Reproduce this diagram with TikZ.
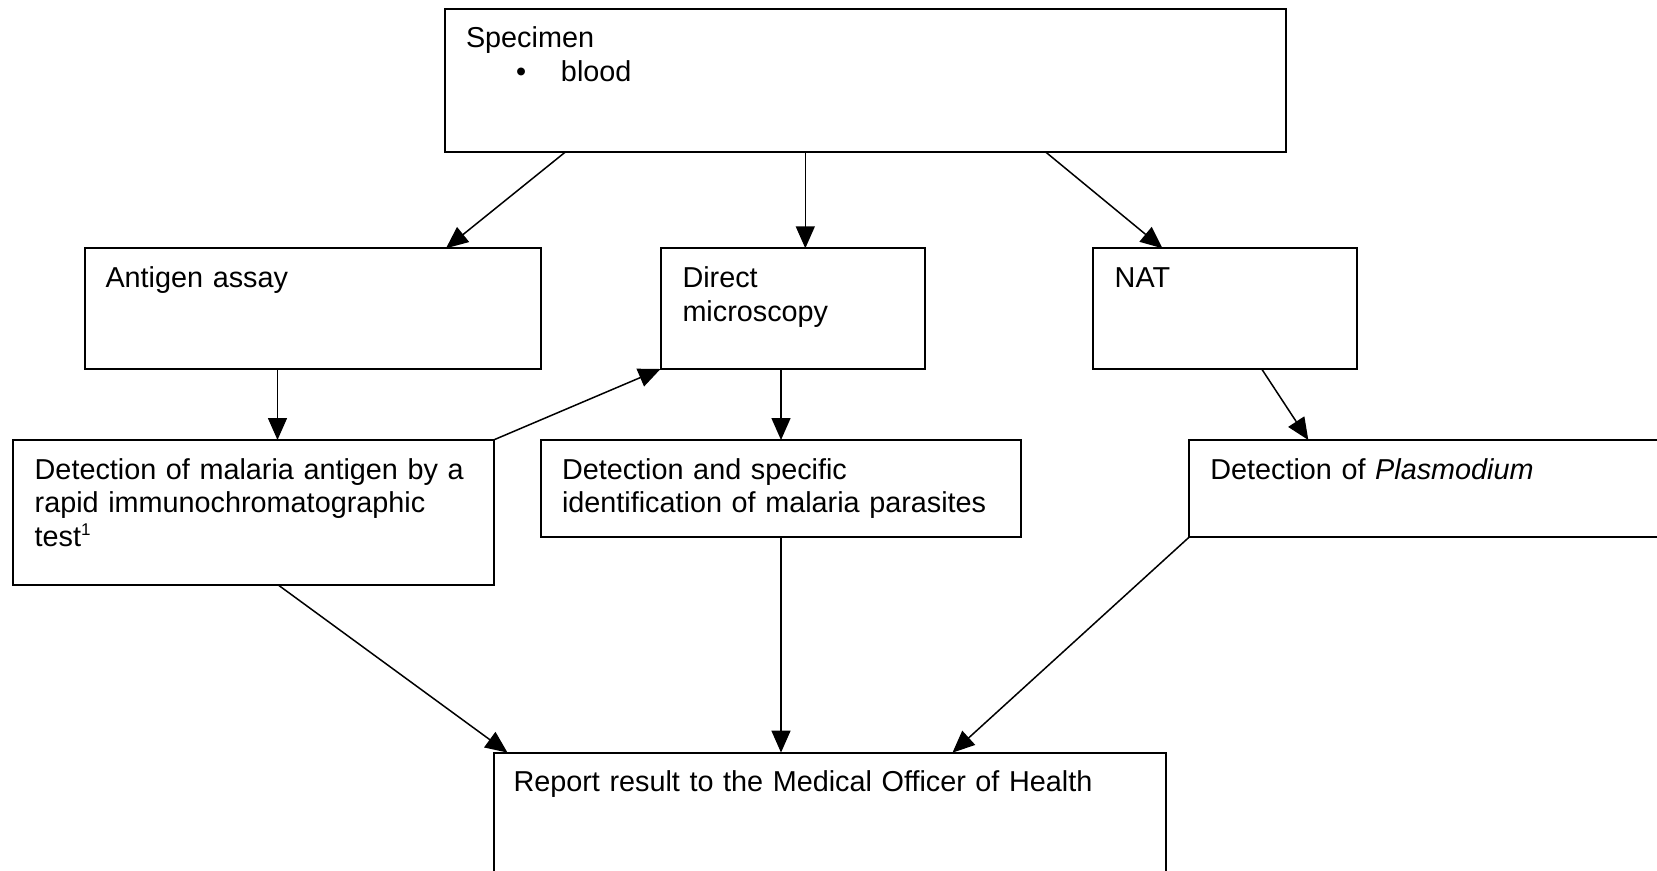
\documentclass[tikz,border=0pt]{standalone}
\usepackage{fontspec}
\setmainfont{Liberation Sans}
\usetikzlibrary{arrows.meta}
\begin{document}
\begin{tikzpicture}[x=1pt,y=-1pt,
  box/.style={draw=black,line width=2pt,inner sep=0pt,outer sep=0pt,anchor=north west},
  txt/.style={anchor=base west,inner sep=0pt,outer sep=0pt,align=left,text width=760pt,
    font=\fontsize{28.8}{33.8}\selectfont},
  arr/.style={line width=1.5pt,-{Triangle[length=22pt,width=19pt]}}]
\clip (0,0) rectangle (1657,870);
\fill[white] (0,0) rectangle (1657,870);
% boxes
\node[box,minimum width=840.5pt,minimum height=143.8pt] (spec) at (445,8.5) {};
\node[box,minimum width=456.5pt,minimum height=120.7pt] (anti) at (84.5,248.3) {};
\node[box,minimum width=264.2pt,minimum height=120.7pt] (direct) at (660.5,248.3) {};
\node[box,minimum width=264.3pt,minimum height=120.7pt] (nat) at (1092.7,248.3) {};
\node[box,minimum width=480.8pt,minimum height=144.6pt] (detA) at (12.7,440) {};
\node[box,minimum width=480pt,minimum height=97pt] (detS) at (541,440) {};
\node[box,minimum width=520pt,minimum height=97pt] (detP) at (1189.3,440) {};
\node[box,minimum width=672.2pt,minimum height=200pt] (report) at (493.5,752.6) {};
% texts
\node[txt] (specT) at ([xshift=21pt,yshift=-39pt]spec.north west)
  {Specimen\\\hspace*{50pt}\makebox[45pt][l]{•}blood};
\node[txt] (antiT) at ([xshift=21pt,yshift=-39pt]anti.north west) {Antigen assay};
\node[txt] (directT) at ([xshift=22pt,yshift=-39pt]direct.north west) {Direct\\microscopy};
\node[txt] (natT) at ([xshift=22pt,yshift=-39pt]nat.north west) {NAT};
\node[txt] (detAT) at ([xshift=22pt,yshift=-39pt]detA.north west)
  {Detection of malaria antigen by a\\rapid immunochromatographic\\test\raisebox{11pt}{\fontsize{17}{17}\selectfont 1}};
\node[txt] (detST) at ([xshift=21pt,yshift=-39pt]detS.north west)
  {Detection and specific\\identification of malaria parasites};
\node[txt] (detPT) at ([xshift=21pt,yshift=-39pt]detP.north west)
  {Detection of \textit{Plasmodium}};
\node[txt] (reportT) at ([xshift=20pt,yshift=-38.5pt]report.north west)
  {Report result to the Medical Officer of Health};
% connectors
\draw[arr] ([xshift=120pt]spec.south west) -- ([xshift=361.5pt]anti.north west);
\draw[arr] ([xshift=360.3pt]spec.south west) -- ([xshift=144.8pt]direct.north west);
\draw[arr] ([xshift=601pt]spec.south west) -- ([xshift=69.8pt]nat.north west);
\draw[arr] ([xshift=193pt]anti.south west) -- ([xshift=264.8pt]detA.north west);
\draw[arr] (detA.north east) -- (direct.south west);
\draw[arr] ([xshift=120.5pt]direct.south west) -- ([xshift=240pt]detS.north west);
\draw[arr] ([xshift=169pt]nat.south west) -- ([xshift=119pt]detP.north west);
\draw[arr] ([xshift=265pt]detA.south west) -- ([xshift=14pt]report.north west);
\draw[arr] ([xshift=240pt]detS.south west) -- ([xshift=287.5pt]report.north west);
\draw[arr] (detP.south west) -- ([xshift=459pt]report.north west);
\end{tikzpicture}
\end{document}
